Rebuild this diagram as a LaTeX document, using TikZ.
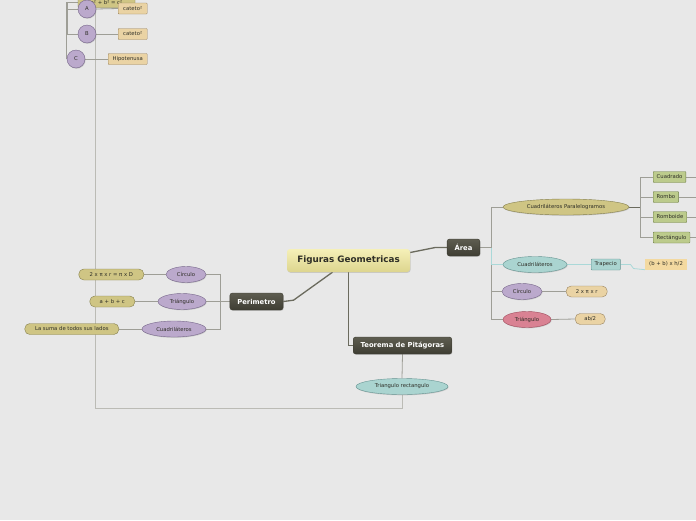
\documentclass[tikz,border=0pt]{standalone}
\usepackage{fontspec}
\setmainfont{DejaVu Sans}
\usetikzlibrary{shapes.geometric,shadows,backgrounds}
\definecolor{bgcol}{HTML}{E8E8E8}
\definecolor{txtdark}{HTML}{2E2E26}
\definecolor{darktop}{HTML}{5E5D50}
\definecolor{darkbot}{HTML}{3E3D33}
\definecolor{maintop}{HTML}{F5F0B8}
\definecolor{mainbot}{HTML}{DDD58E}
\definecolor{olive}{HTML}{CFC584}
\definecolor{oliveline}{HTML}{86804E}
\definecolor{lilac}{HTML}{BBA9CC}
\definecolor{lilacline}{HTML}{76668A}
\definecolor{teal}{HTML}{AAD4D0}
\definecolor{tealline}{HTML}{669492}
\definecolor{rose}{HTML}{D98293}
\definecolor{roseline}{HTML}{A04C5C}
\definecolor{leaf}{HTML}{BCCB8C}
\definecolor{leafline}{HTML}{6E7E48}
\definecolor{sand}{HTML}{EAD3A4}
\definecolor{sandline}{HTML}{9A8460}
\definecolor{sandpale}{HTML}{F3D9A0}
\definecolor{branch}{HTML}{6B6B5E}
\definecolor{twig}{HTML}{9E9E96}
\definecolor{twigteal}{HTML}{AAD8D8}
\begin{document}
\begin{tikzpicture}[x=1pt,y=-1pt,
  every node/.style={font=\fontsize{5.3}{6}\selectfont,text=txtdark,inner sep=0pt},
  shade/.style={drop shadow={shadow xshift=0.6pt,shadow yshift=-0.8pt,opacity=0.3}},
  central/.style={rectangle,rounded corners=3pt,top color=maintop,bottom color=mainbot,
    font=\bfseries\fontsize{8.8}{10}\selectfont,minimum width=123pt,minimum height=23pt,shade},
  topic/.style={rectangle,rounded corners=2.5pt,top color=darktop,bottom color=darkbot,
    draw=darkbot,text=white,font=\bfseries\fontsize{6.8}{8}\selectfont,
    inner xsep=7.5pt,minimum height=17pt,shade},
  bubble/.style={ellipse,draw=#1line,fill=#1,minimum height=16pt,shade},
  pill/.style={rectangle,rounded corners=5pt,draw=#1line,fill=#1,minimum height=11pt,inner xsep=7pt},
  tag/.style={rectangle,rounded corners=0.8pt,draw=#1line,fill=#1,minimum height=11pt,inner xsep=3.5pt},
  dot/.style={circle,draw=lilacline,fill=lilac,minimum size=18pt,shade},
  mainline/.style={draw=branch,line width=1.3pt},
  subline/.style={draw=twig,line width=0.8pt},
  tline/.style={draw=twigteal,line width=0.8pt}]
  \useasboundingbox (0,0) rectangle (696,520);
  % centre and first level
  \node[central] (fig) at (348.5,260.5) {Figuras Geometricas};
  \node[topic] (area) at (463.5,247.5) {Área};
  \node[topic] (per) at (256.5,301.5) {Perimetro};
  \node[topic] (teo) at (402.5,345.5) {Teorema de Pitágoras};
  % Area branch
  \node[bubble=olive,minimum width=126pt] (cp) at (566,207) {Cuadriláteros Paralelogramos};
  \node[bubble=teal,minimum width=64pt] (cuad) at (535,264.5) {Cuadriláteros};
  \node[bubble=lilac,minimum width=40pt] (acirc) at (522,291.5) {Círculo};
  \node[bubble=rose,minimum width=48pt] (atri) at (527,319.5) {Triángulo};
  \foreach \nm/\txt/\py in {cuadrado/Cuadrado/177, rombo/Rombo/197, romboide/Romboide/217, rectang/Rectángulo/237.5}
    \node[tag=leaf,anchor=west] (\nm) at (653,\py) {\txt};
  \node[tag=teal,anchor=west] (trap) at (591,264.5) {Trapecio};
  \node[rectangle,fill=sandpale,minimum height=11pt,inner xsep=4pt,anchor=west] (trapf) at (645,264) {(b + b) x h/2};
  \node[pill=sand,anchor=west,minimum width=41pt] (acircf) at (566,291.5) {2 x π x r};
  \node[pill=sand,anchor=west,minimum width=30pt] (atrif) at (575,319) {ab/2};
  % Perimetro branch
  \node[bubble=lilac,minimum width=40pt] (pcirc) at (186,274.5) {Círculo};
  \node[bubble=lilac,minimum width=48pt] (ptri) at (182,301.5) {Triángulo};
  \node[bubble=lilac,minimum width=64pt] (pcuad) at (174,329) {Cuadriláteros};
  \node[pill=olive,anchor=east,minimum width=65pt] (pcircf) at (144,274.5) {2 x π x r = π x D};
  \node[pill=olive,anchor=east,minimum width=45pt] (ptrif) at (135,301.5) {a + b + c};
  \node[pill=olive,anchor=east,minimum width=94pt] (pcuadf) at (119,329) {La suma de todos sus lados};
  % Pitagoras branch
  \node[bubble=teal,minimum width=92pt] (trect) at (402,386.5) {Triangulo rectangulo};
  \node[tag=olive,minimum width=57pt,text depth=0pt] (pyth) at (106.5,2) {a² + b² = c²};
  \node[dot] (na) at (87,9) {A};
  \node[dot] (nb) at (87,34) {B};
  \node[dot] (nc) at (76,59) {C};
  \node[tag=sand,anchor=west,minimum width=29pt] (cat1) at (118,8.5) {cateto²};
  \node[tag=sand,anchor=west,minimum width=29pt] (cat2) at (118,34) {cateto²};
  \node[tag=sand,anchor=west,minimum width=39pt] (hip) at (108,59) {Hipotenusa};
  % connectors
  \coordinate (abus) at (491,247.5);
  \coordinate (pbus) at (220,301.5);
  \coordinate (cpbus) at (640,207);
  \coordinate (tbus) at (67.5,2);
  \coordinate (edge) at (696,0);
  \begin{scope}[on background layer]
    \fill[bgcol] (0,0) rectangle (696,520);
    \draw[mainline] ([yshift=8pt]fig.east) -- ++(25,-5) -- (area.west);
    \draw[mainline] ([xshift=-16pt]fig.south) -- ++(-39,28) -- (per.east);
    \draw[mainline] (fig.south) |- (teo.west);
    \draw[subline] (area.east) -- (abus);
    \foreach \n in {cp,acirc,atri}
      \draw[subline] (abus) |- (\n.west);
    \draw[tline] (abus) |- (cuad.west);
    \draw[branch,line width=1pt] (cp.east) -- (cpbus);
    \foreach \n in {cuadrado,rombo,romboide,rectang} {
      \draw[subline] (cpbus) |- (\n.west);
      \draw[subline] (\n.east) -- (\n.east -| edge);
    }
    \draw[tline] (cuad.east) -- (trap.west);
    \draw[tline] (trap.east) -- ++(10,0) -- ++(3,4) -- (trapf.south west);
    \draw[subline] (acirc.east) -- (acircf.west);
    \draw[subline] (atri.east) -- (atrif.west);
    \draw[subline] (per.west) -- (pbus);
    \foreach \n in {pcirc,ptri,pcuad}
      \draw[subline] (pbus) |- (\n.east);
    \draw[subline] (pcirc.west) -- (pcircf.east);
    \draw[subline] (ptri.west) -- (ptrif.east);
    \draw[subline] (pcuad.west) -- (pcuadf.east);
    \draw[subline] (teo.south) -- (trect.north);
    \draw[subline,draw=twig!70] (trect.south) -- ++(0,14) -| ([xshift=-11.5pt]pyth.south);
    \draw[subline] (pyth.west) -| (nc.west);
    \draw[subline] (tbus) |- (na.west);
    \draw[subline] (tbus) |- (nb.west);
    \draw[subline] (na.east) -- (cat1.west);
    \draw[subline] (nb.east) -- (cat2.west);
    \draw[subline] (nc.east) -- (hip.west);
  \end{scope}
\end{tikzpicture}
\end{document}
